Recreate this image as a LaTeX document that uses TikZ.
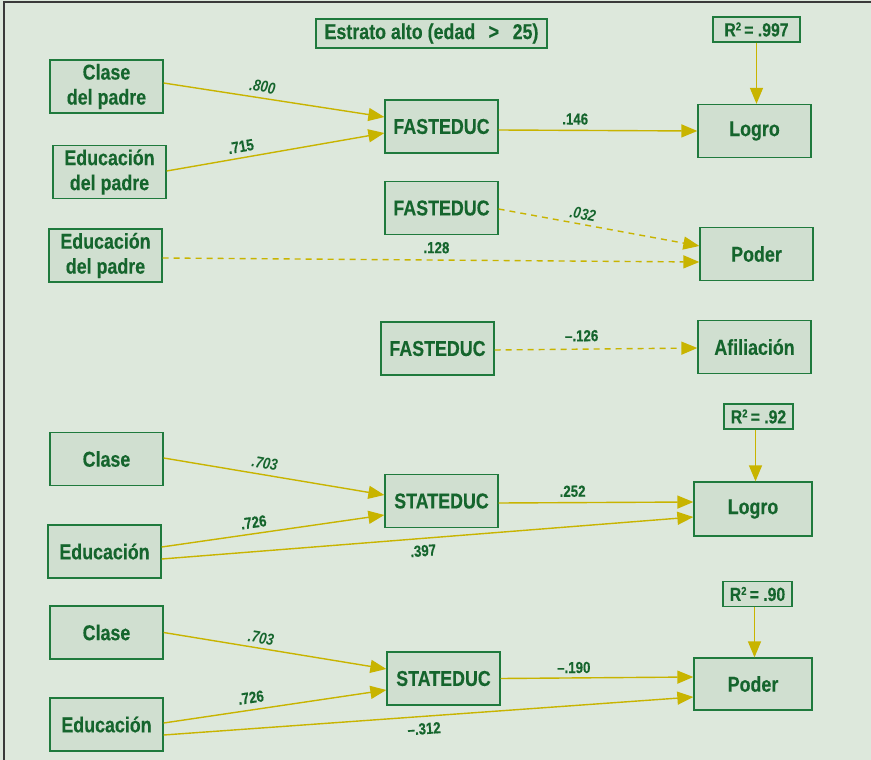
\documentclass[tikz,border=0pt]{standalone}
\usepackage{fontspec}
\setmainfont[FakeStretch=0.83, BoldFeatures={FakeBold=0.3}]{Liberation Sans}
\usetikzlibrary{arrows.meta}
\definecolor{bg}{HTML}{DDE8DC}
\definecolor{boxfill}{HTML}{D0DFD0}
\definecolor{boxline}{HTML}{1F7A3D}
\definecolor{ink}{HTML}{15652D}
\definecolor{pathcol}{HTML}{C8B400}
\definecolor{framecol}{HTML}{3A3A3A}
% small raised exponent for R-squared
\newcommand{\rsqlabel}{R\raisebox{6pt}{\fontsize{11.5}{11.5}\selectfont 2}}
\begin{document}
\begin{tikzpicture}[x=1pt,y=-1pt,
  var/.style={draw=boxline, fill=boxfill, line width=1.3pt, text=ink,
    font=\fontsize{21.5}{25}\selectfont\bfseries, align=center,
    minimum width=113pt, minimum height=53pt, inner sep=0pt},
  rsq/.style={var, font=\fontsize{19}{20}\selectfont\bfseries,
    minimum width=69pt, minimum height=25pt},
  effect/.style={draw=pathcol, line width=1.4pt,
    -{Triangle[length=16pt,width=13pt]}},
  weak/.style={effect, dash pattern=on 6pt off 5pt},
  coef/.style={text=ink, font=\fontsize{16}{17}\selectfont\bfseries,
    inner sep=0pt, sloped}
]
% canvas and frame
\fill[bg] (0,0) rectangle (871,760);
\useasboundingbox (0,0) rectangle (871,760);
\draw[framecol, line width=2pt] (4,760) -- (4,2) -- (871,2);

% title
\node[var, minimum width=231pt, minimum height=29pt] (title) at (431.5,33.5)
  {Estrato alto (edad \ \,>\ \, 25)};

% block 1: Logro on FASTEDUC
\node[var] (clasep) at (106.5,86.5) {Clase\\del padre};
\node[var] (edup1) at (109.5,172) {Educación\\del padre};
\node[var] (fast1) at (441.5,126.5) {FASTEDUC};
\node[var] (logro1) at (754.5,131) {Logro};
\node[rsq, minimum width=87pt] (r1) at (756.5,29.5) {\rsqlabel\,= .997};

\draw[effect] ([yshift=3.5pt]clasep.east) -- node[coef, pos=.44, above=5pt] (l1) {\itshape .800} ([yshift=9.5pt]fast1.west);
\draw[effect] ([yshift=1pt]edup1.east) -- node[coef, pos=.35, above=5pt] (l2) {.715} ([yshift=-6.5pt]fast1.west);
\draw[effect] ([yshift=-3.5pt]fast1.east) -- node[coef, pos=.385, above=5pt] (l3) {.146} (logro1.west);
\draw[effect] (r1.south) -- (r1.south |- logro1.north);

% block 2: Poder
\node[var] (fast2) at (441.5,208) {FASTEDUC};
\node[var] (edup2) at (105.5,255.5) {Educación\\del padre};
\node[var] (poder1) at (756.5,254) {Poder};
\draw[weak] ([yshift=-1pt]fast2.east) -- node[coef, pos=.41, above=4pt] (l4) {\itshape .032} ([yshift=8pt]poder1.west);
\draw[weak] ([yshift=-2.5pt]edup2.east) -- node[coef, pos=.51, above=6pt] (l5) {.128} ([yshift=-8pt]poder1.west);

% block 3: Afiliacion
\node[var] (fast3) at (437.5,348.5) {FASTEDUC};
\node[var] (afil) at (754.5,347) {Afiliación};
\draw[weak] ([yshift=-1.5pt]fast3.east) -- node[coef, pos=.43, above=7pt] (l6) {--.126} ([yshift=-1pt]afil.west);

% block 4: Logro on STATEDUC
\node[var] (clase2) at (106.5,459) {Clase};
\node[var] (edu2) at (104.5,551.5) {Educación};
\node[var] (stat1) at (441.5,501) {STATEDUC};
\node[var, minimum width=118pt, minimum height=54pt] (logro2) at (753,509) {Logro};
\node[rsq] (r2) at (758.5,416.5) {\rsqlabel\,= .92};

\draw[effect] ([yshift=1pt]clase2.east) -- node[coef, pos=.45, above=5pt] (l7) {\itshape .703} ([yshift=6pt]stat1.west);
\draw[effect] ([yshift=4.5pt]edu2.east) -- node[coef, pos=.42, above=5pt] (l8) {.726} ([yshift=-14pt]stat1.west);
\draw[effect] ([yshift=-7.5pt]edu2.east) -- node[coef, pos=.49, below=6pt] (l9) {.397} ([yshift=-8pt]logro2.west);
\draw[effect] ([yshift=-2pt]stat1.east) -- node[coef, pos=.38, above=5pt] (l10) {.252} ([yshift=7pt]logro2.west);
\draw[effect] ([xshift=-3pt]r2.south) -- ([xshift=-3pt]r2.south |- logro2.north);

% block 5: Poder on STATEDUC
\node[var] (clase3) at (106.5,632.5) {Clase};
\node[var] (edu3) at (106.5,724.5) {Educación};
\node[var] (stat2) at (443.5,678.5) {STATEDUC};
\node[var, minimum width=118pt, minimum height=52pt] (poder2) at (753,684) {Poder};
\node[rsq] (r3) at (757.5,594) {\rsqlabel\,= .90};

\draw[effect] (clase3.east) -- node[coef, pos=.43, above=4pt] (l11) {\itshape .703} ([yshift=9.5pt]stat2.west);
\draw[effect] ([yshift=1.5pt]edu3.east) -- node[coef, pos=.40, above=6pt] (l12) {.726} ([yshift=-11.5pt]stat2.west);
\draw[effect] ([yshift=-10.5pt]edu3.east) -- node[coef, pos=.49, below=6pt] (l13) {--.312} ([yshift=-13pt]poder2.west);
\draw[effect] (stat2.east) -- node[coef, pos=.38, above=4pt] (l14) {--.190} ([yshift=7pt]poder2.west);
\draw[effect] ([xshift=-3pt]r3.south) -- ([xshift=-3pt]r3.south |- poder2.north);
\end{tikzpicture}
\end{document}
